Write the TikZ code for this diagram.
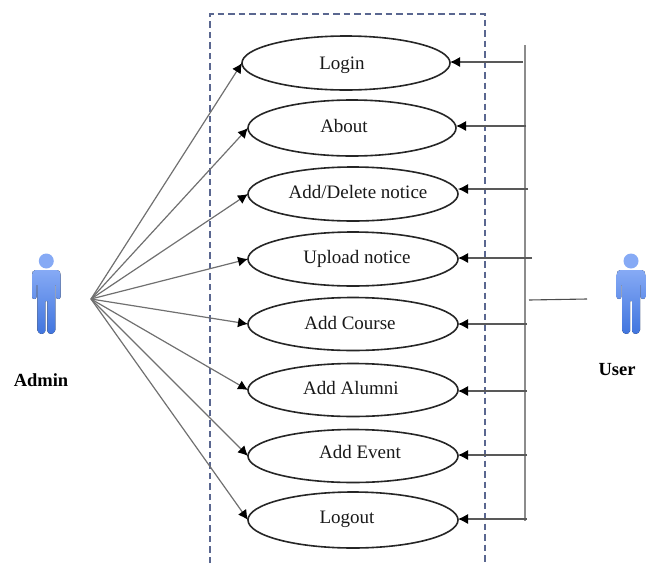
\documentclass[tikz,border=0pt]{standalone}
\usepackage{fontspec}
\setmainfont{Liberation Serif}
\usetikzlibrary{shapes.geometric,arrows.meta}
\definecolor{boxblue}{HTML}{5A6790}
\definecolor{linegray}{HTML}{707070}
\definecolor{persontop}{HTML}{86AAF5}
\definecolor{personbot}{HTML}{3F74DE}
\tikzset{
  usecase/.style={draw=black!85,line width=1.6pt,ellipse,fill=white,inner sep=0pt,outer sep=0pt,minimum width=#1,minimum height=54pt},
  usecase/.default=210pt,
  uclabel/.style={font=\fontsize{19}{22}\selectfont,inner sep=0pt,text=black!90},
  actorlabel/.style={font=\fontsize{18.5}{22}\selectfont\bfseries,inner sep=0pt},
  assoc/.style={draw=linegray,line width=1.2pt,-{Latex[length=10pt,width=10pt,color=black]}},
  stub/.style={draw=black!65,line width=1.1pt,-{Latex[length=10pt,width=10pt,color=black]}},
  bus/.style={draw=black!45,line width=1.4pt},
  sysbox/.style={draw=boxblue,line width=1.5pt,dash pattern=on 6.5pt off 4pt},
  personshape/.pic={
    \fill[top color=persontop,bottom color=personbot]
      (-14.3,-24) to[out=90,in=180] (-11,-29) -- (11,-29) to[out=0,in=90] (14.3,-24)
      -- (14.3,-2) to[out=-90,in=0] (12,0) to[out=180,in=-90] (9.7,-2)
      -- (9.7,-14) -- (9,-14) -- (9,31)
      .. controls (8,36) and (2,36) .. (1,32) -- (1,2) -- (-1,2) -- (-1,32)
      .. controls (-2,36) and (-8,36) .. (-9,31) -- (-9,-14) -- (-9.7,-14)
      -- (-9.7,-2) to[out=-90,in=0] (-12,0) to[out=180,in=-90] (-14.3,-2) -- cycle;
    \fill[persontop] (0,-38) circle (7.5);
  }
}
\begin{document}
\begin{tikzpicture}[x=1pt,y=-1pt]
\useasboundingbox (0,0) rectangle (648,563);
% system boundary
\draw[sysbox] (210,563) -- (210,14) -- (485,14) -- (485,563);
% use cases
\node[usecase=208pt,minimum height=54pt] (login) at (346,63) {};
\node[usecase=208pt,minimum height=56pt] (about) at (352,128) {};
\node[usecase,minimum height=54pt] (adddelete) at (353,194) {};
\node[usecase,minimum height=54pt] (upload) at (353,259) {};
\node[usecase,minimum height=53pt] (course) at (353,324) {};
\node[usecase,minimum height=53pt] (alumni) at (353,390) {};
\node[usecase,minimum height=53pt] (event) at (353,456) {};
\node[usecase,minimum height=56pt] (logout) at (353,520) {};
\node[uclabel,anchor=base] (tlogin) at (342,69) {Login};
\node[uclabel,anchor=base] (tabout) at (344,132) {About};
\node[uclabel,anchor=base] (tadd) at (358,198) {Add/Delete notice};
\node[uclabel,anchor=base] (tup) at (357,263) {Upload notice};
\node[uclabel,anchor=base] (tcourse) at (350,329) {Add Course};
\node[uclabel,anchor=base] (talumni) at (351,394) {Add Alumni};
\node[uclabel,anchor=base] (tevent) at (360,458) {Add Event};
\node[uclabel,anchor=base] (tlogout) at (347,523) {Logout};
% actors
\pic at (46.3,299) {personshape};
\pic at (631,299) {personshape};
\node[actorlabel,anchor=base] (admin) at (41,386) {Admin};
\node[actorlabel,anchor=base] (user) at (617,375) {User};
\coordinate (src) at (91,299);
\foreach \t in {login,about,adddelete,upload,course,alumni,event,logout}
  \draw[assoc] (src) -- (\t.west);
% user bus
\coordinate (bustop) at (525,45);
\coordinate (busbot) at (525,521);
\draw[bus] (bustop) -- (busbot);
\coordinate (b1) at (523,62);
\coordinate (b2) at (526,126);
\coordinate (b3) at (528,189);
\coordinate (b4) at (532,258);
\coordinate (b5) at (527,324);
\coordinate (b6) at (527,391);
\coordinate (b7) at (527,455);
\coordinate (b8) at (527,519);
\draw[stub] (b1) -- (login.east |- b1);
\draw[stub] (b2) -- (about.east |- b2);
\draw[stub] (b3) -- (adddelete.east |- b3);
\draw[stub] (b4) -- (upload.east |- b4);
\draw[stub] (b5) -- (course.east |- b5);
\draw[stub] (b6) -- (alumni.east |- b6);
\draw[stub] (b7) -- (event.east |- b7);
\draw[stub] (b8) -- (logout.east |- b8);
\coordinate (ubus) at (529,300);
\coordinate (uact) at (587,299);
\draw[draw=black!70,line width=1.1pt] (ubus) -- (uact);
\end{tikzpicture}
\end{document}
